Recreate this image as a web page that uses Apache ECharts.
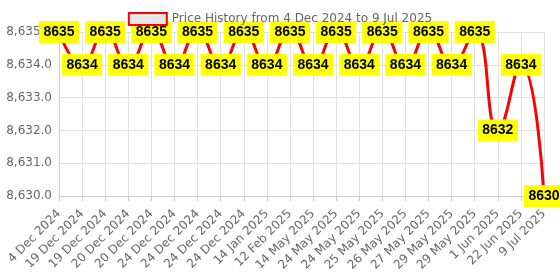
<!DOCTYPE html>
<html><head><meta charset="utf-8">
<script src="https://cdn.jsdelivr.net/npm/echarts@6/dist/echarts.min.js"></script>
<style>html,body{margin:0;padding:0;background:#fff}#c{width:560px;height:280px}</style>
</head><body><div id="c"></div>
<script>
const categories = ["4 Dec 2024","19 Dec 2024","19 Dec 2024","20 Dec 2024","20 Dec 2024","24 Dec 2024","24 Dec 2024","24 Dec 2024","24 Dec 2024","14 Jan 2025","12 Feb 2025","14 May 2025","24 May 2025","24 May 2025","25 May 2025","26 May 2025","27 May 2025","29 May 2025","29 May 2025","1 Jun 2025","22 Jun 2025","9 Jul 2025"];
const prices = [8635,8634,8635,8634,8635,8634,8635,8634,8635,8634,8635,8634,8635,8634,8635,8634,8635,8634,8635,8632,8634,8630];
const seriesName = "Price History from 4 Dec 2024 to 9 Jul 2025";
const FONT = 'DejaVu Sans';

const chart = echarts.init(document.getElementById('c'));
chart.setOption({
  animation: false,
  textStyle: {fontFamily: FONT},
  legend: {
    top: 7, left: 'center',
    itemWidth: 38, itemHeight: 12, itemGap: 6,
    textStyle: {color: '#666', fontSize: 12, fontFamily: FONT},
    data: [{name: seriesName, icon: 'rect'}]
  },
  grid: {left: 59, right: 16, top: 32, bottom: 84, containLabel: false, outerBoundsMode: 'none'},
  xAxis: {
    type: 'category', data: categories, boundaryGap: false,
    axisLine: {lineStyle: {color: '#ccc'}},
    axisTick: {show: true, alignWithLabel: true, length: 5, lineStyle: {color: '#ccc'}},
    splitLine: {show: true, lineStyle: {color: '#e0e0e0'}},
    axisLabel: {rotate: 45, color: '#666', fontSize: 12, interval: 0, margin: 16, fontFamily: FONT}
  },
  yAxis: {
    type: 'value', min: 8630, max: 8635, interval: 1,
    axisLine: {show: true, lineStyle: {color: '#ccc'}},
    splitLine: {lineStyle: {color: '#e0e0e0'}},
    axisLabel: {color: '#666', fontSize: 12, margin: 7, fontFamily: FONT,
      formatter: v => v.toLocaleString('en-US', {minimumFractionDigits: 1, maximumFractionDigits: 1})}
  },
  series: [{
    name: seriesName, type: 'line', data: prices, smooth: true,
    showSymbol: true, symbol: 'circle', symbolSize: 0,
    lineStyle: {color: '#ff0000', width: 3},
    itemStyle: {color: '#e6e6e6', borderColor: '#ff0000', borderWidth: 2},
    label: {show: true, position: 'inside', color: '#000', fontWeight: 'bold', fontSize: 14,
      fontFamily: 'Liberation Sans', lineHeight: 14,
      backgroundColor: '#ffff00', padding: [4, 4.5, 4, 4.5]},
    labelLayout: {hideOverlap: false},
    z: 3
  }]
});
</script></body></html>
